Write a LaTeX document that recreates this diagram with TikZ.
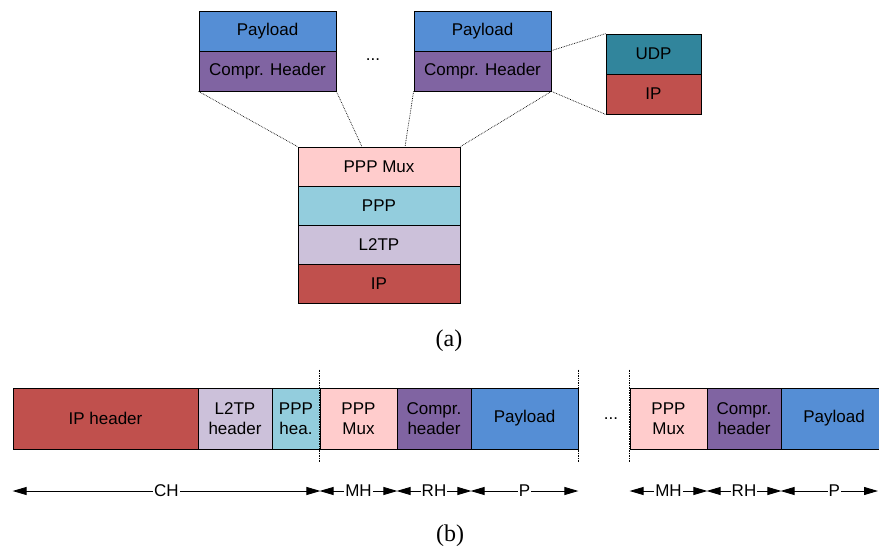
\documentclass[tikz,border=0pt]{standalone}
\usepackage{fontspec}
\setmainfont{Liberation Sans}
\newfontfamily\capfont{Liberation Serif}
\usetikzlibrary{arrows.meta,calc}
\definecolor{payblue}{HTML}{558ED5}
\definecolor{comprpurple}{HTML}{8064A2}
\definecolor{udpteal}{HTML}{31859C}
\definecolor{ipred}{HTML}{C0504D}
\definecolor{muxpink}{HTML}{FFCCCC}
\definecolor{ppplblue}{HTML}{93CDDD}
\definecolor{l2tplav}{HTML}{CCC1DA}
\begin{document}
\begin{tikzpicture}[x=1pt,y=-1pt,
  box/.style={draw=black, line width=0.8pt, inner sep=0pt, align=center, font=\fontsize{17}{19.5}\selectfont, text=black},
  conn/.style={densely dotted, line width=0.7pt},
  vdot/.style={densely dotted, line width=0.7pt},
  dim/.style={line width=0.9pt, {Triangle[length=14pt,width=8pt]}-{Triangle[length=14pt,width=8pt]}},
  lab/.style={font=\fontsize{17}{19.5}\selectfont, fill=white, inner sep=1pt},
  capt/.style={font=\capfont\fontsize{24}{26}\selectfont}]
\useasboundingbox (0,0) rectangle (879,549);

% top stacks
\node[box, fill=payblue, minimum width=137pt, minimum height=40pt] (pl1) at (267.5,31) {Payload};
\node[box, fill=comprpurple, minimum width=137pt, minimum height=40pt] (ch1) at (267.5,71) {Compr. Header};
\node[box, fill=payblue, minimum width=137pt, minimum height=40pt] (pl2) at (482.5,31) {Payload};
\node[box, fill=comprpurple, minimum width=137pt, minimum height=40pt] (ch2) at (482.5,71) {Compr. Header};
\node[font=\fontsize{17}{19.5}\selectfont] (dots1) at (373,60) {...};
\node[box, fill=udpteal, minimum width=95pt, minimum height=40pt] (udp) at (653.5,54) {UDP};
\node[box, fill=ipred, minimum width=95pt, minimum height=40pt] (ipu) at (653.5,94) {IP};

% middle stack
\node[box, fill=muxpink, minimum width=162pt, minimum height=39pt] (mux) at (379,166.5) {PPP Mux};
\node[box, fill=ppplblue, minimum width=162pt, minimum height=39pt] (ppp) at (379,205.5) {PPP};
\node[box, fill=l2tplav, minimum width=162pt, minimum height=39pt] (l2tp) at (379,244.5) {L2TP};
\node[box, fill=ipred, minimum width=162pt, minimum height=39pt] (ipm) at (379,283.5) {IP};

% connectors
\draw[conn] (ch1.south west) -- (mux.north west);
\draw[conn] (ch1.south east) -- ($(mux.north west)!0.395!(mux.north east)$);
\draw[conn] (ch2.south west) -- ($(mux.north west)!0.66!(mux.north east)$);
\draw[conn] (ch2.south east) -- (mux.north east);
\draw[conn] (ch2.north east) -- (udp.north west);
\draw[conn] (ch2.south east) -- (ipu.south west);

\node[capt] (capa) at (449,341) {(a)};

% bottom row
\node[box, fill=ipred, minimum width=185pt, minimum height=61pt] (ipb) at (105.5,418.5) {IP header};
\node[box, fill=l2tplav, minimum width=74pt, minimum height=61pt] (l2b) at (235,418.5) {L2TP\\header};
\node[box, fill=ppplblue, minimum width=48pt, minimum height=61pt] (ppph) at (296,418.5) {PPP\\hea.};
\node[box, fill=muxpink, minimum width=77pt, minimum height=61pt] (muxb1) at (358.5,418.5) {PPP\\Mux};
\node[box, fill=comprpurple, minimum width=74pt, minimum height=61pt] (chb1) at (434,418.5) {Compr.\\header};
\node[box, fill=payblue, minimum width=107pt, minimum height=61pt] (plb1) at (524.5,418.5) {Payload};
\node[font=\fontsize{17}{19.5}\selectfont] (dots2) at (611,419) {...};
\node[box, fill=muxpink, minimum width=77pt, minimum height=61pt] (muxb2) at (668.5,418.5) {PPP\\Mux};
\node[box, fill=comprpurple, minimum width=74pt, minimum height=61pt] (chb2) at (744,418.5) {Compr.\\header};
\node[box, fill=payblue, minimum width=106pt, minimum height=61pt] (plb2) at (834,418.5) {Payload};

% vertical dotted separators
\draw[vdot] ([yshift=18pt]muxb1.north west) -- ([yshift=-13pt]muxb1.south west);
\draw[vdot] ([yshift=18pt]plb1.north east) -- ([yshift=-13pt]plb1.south east);
\draw[vdot] ([yshift=18pt]muxb2.north west) -- ([yshift=-13pt]muxb2.south west);

% dimension arrows
\coordinate (ya) at (0,491);
\coordinate (pend) at (878,491);
\draw[dim] (ipb.west |- ya) -- node[lab]{CH} (ppph.east |- ya);
\draw[dim] (muxb1.west |- ya) -- node[lab]{MH} (muxb1.east |- ya);
\draw[dim] (chb1.west |- ya) -- node[lab]{RH} (chb1.east |- ya);
\draw[dim] (plb1.west |- ya) -- node[lab]{P} (plb1.east |- ya);
\draw[dim] (muxb2.west |- ya) -- node[lab]{MH} (muxb2.east |- ya);
\draw[dim] (chb2.west |- ya) -- node[lab]{RH} (chb2.east |- ya);
\draw[dim] (plb2.west |- ya) -- node[lab, pos=0.55]{P} (pend);

\node[capt] (capb) at (450,536) {(b)};
\end{tikzpicture}
\end{document}
